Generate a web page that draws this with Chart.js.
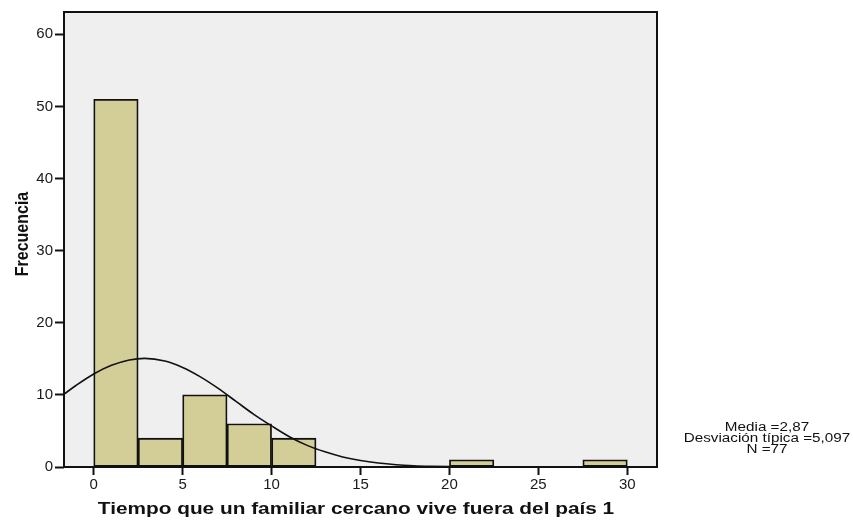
<!DOCTYPE html>
<html>
<head>
<meta charset="utf-8">
<script src="https://cdn.jsdelivr.net/npm/chart.js@4/dist/chart.umd.min.js"></script>
<style>
  html, body { margin: 0; padding: 0; background: #fff; }
  #wrap { width: 853px; height: 520px; }
</style>
</head>
<body>
<div id="wrap"><canvas id="hist" width="853" height="520"></canvas></div>
<script>
// histogram bins (width 2.5), centre of each non-empty bin
const binCenters = [1.25, 3.75, 6.25, 8.75, 11.25, 21.25, 28.75];
const binCounts = [51, 4, 10, 6, 4, 1, 1];

// normal curve
const curveX = [-1.67, -1, 0, 1, 2, 2.87, 4, 5, 6, 7, 8, 9, 10, 11, 12, 13, 14, 15, 16, 17, 18, 19, 20, 22, 25, 31.67];
const curveY = [10.1, 11.3, 12.9, 14.1, 14.85, 15.07, 14.7, 13.8, 12.5, 10.9, 9.1, 7.3, 5.7, 4.2, 3.0, 2.1, 1.4, 0.9, 0.55, 0.32, 0.18, 0.1, 0.05, 0.01, 0, 0];

const xTicks = [0, 5, 10, 15, 20, 25, 30];
const yTicks = [0, 10, 20, 30, 40, 50, 60];

const xTitle = "Tiempo que un familiar cercano vive fuera del país 1";
const yTitle = "Frecuencia";
const statLines = ["Media =2,87", "Desviación típica =5,097", "N =77"];

const ink = "#111";

function stretchedText(ctx, text, x, y, font, sx) {
  ctx.save();
  ctx.translate(x, y);
  ctx.scale(sx, 1);
  ctx.font = font;
  ctx.fillText(text, 0, 0);
  ctx.restore();
}

const decor = {
  id: "decor",
  beforeDraw(chart) {
    const { ctx, chartArea: a } = chart;
    ctx.save();
    ctx.fillStyle = "#efefef";
    ctx.fillRect(a.left, a.top, a.right - a.left, a.bottom - a.top);
    ctx.restore();
  },
  afterDatasetsDraw(chart) {
    const { ctx, chartArea: a } = chart;
    ctx.save();
    ctx.strokeStyle = ink;
    ctx.lineWidth = 2;
    ctx.strokeRect(a.left, a.top, a.right - a.left, a.bottom - a.top);

    ctx.fillStyle = ink;
    ctx.textAlign = "center";
    ctx.textBaseline = "alphabetic";
    // x title
    stretchedText(ctx, xTitle, 356, 514, "bold 16px 'Liberation Sans', Arial, sans-serif", 1.3);
    // y title
    ctx.save();
    ctx.translate(28, 234);
    ctx.rotate(-Math.PI / 2);
    ctx.scale(1, 1.15);
    ctx.font = "bold 16px 'Liberation Sans', Arial, sans-serif";
    ctx.fillText(yTitle, 0, 0);
    ctx.restore();
    // stats box text
    const ys = [431, 442, 453];
    statLines.forEach((t, i) => {
      stretchedText(ctx, t, 767, ys[i], "12px 'Liberation Sans', Arial, sans-serif", 1.27);
    });
    ctx.restore();
  }
};

new Chart(document.getElementById("hist"), {
  type: "bar",
  data: {
    datasets: [
      {
        type: "line",
        data: curveX.map((x, i) => ({ x: x, y: curveY[i] })),
        borderColor: ink,
        borderWidth: 1.6,
        pointRadius: 0,
        fill: false,
        cubicInterpolationMode: "monotone",
        order: 0
      },
      {
        type: "bar",
        data: binCenters.map((x, i) => ({ x: x, y: binCounts[i] })),
        backgroundColor: "#d3ce97",
        borderColor: ink,
        borderWidth: 1.8,
        borderSkipped: false,
        barPercentage: 1,
        categoryPercentage: 1,
        order: 1
      }
    ]
  },
  options: {
    responsive: false,
    animation: false,
    devicePixelRatio: 1,
    layout: { padding: { top: 12, right: 196, left: 0, bottom: 0 } },
    plugins: { legend: { display: false }, tooltip: { enabled: false } },
    scales: {
      x: {
        type: "linear",
        min: -1.67,
        max: 31.67,
        offset: false,
        grid: { offset: false, drawOnChartArea: false, drawTicks: true, tickLength: 8, tickColor: ink, tickWidth: 2 },
        border: { display: false },
        ticks: { color: "#1a1a1a", padding: 1, maxRotation: 0, font: { family: "'Liberation Sans', Arial, sans-serif", size: 15 } },
        afterBuildTicks: s => { s.ticks = xTicks.map(v => ({ value: v })); },
        afterFit: s => { s.height = 53; }
      },
      y: {
        min: 0,
        max: 63.1,
        grid: { drawOnChartArea: false, drawTicks: true, tickLength: 9, tickColor: ink, tickWidth: 2 },
        border: { display: false },
        ticks: { color: "#1a1a1a", padding: 2, font: { family: "'Liberation Sans', Arial, sans-serif", size: 15 } },
        afterBuildTicks: s => { s.ticks = yTicks.map(v => ({ value: v })); },
        afterFit: s => { s.width = 64; }
      }
    }
  },
  plugins: [decor]
});
</script>
</body>
</html>
